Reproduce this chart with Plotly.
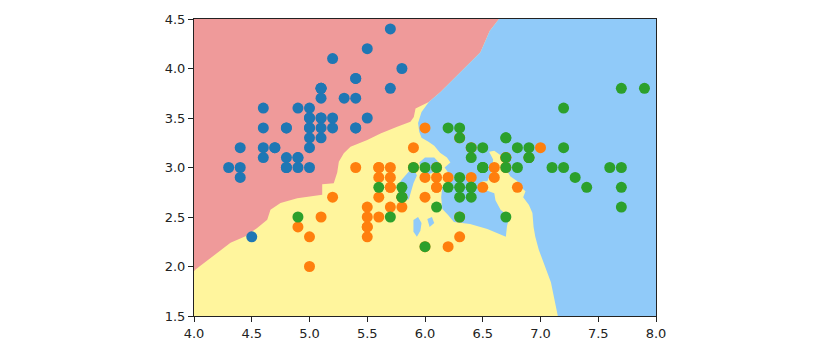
import plotly.graph_objects as go

# ---- Iris data (sepal length, sepal width) ----
setosa_len = [5.1,4.9,4.7,4.6,5.0,5.4,4.6,5.0,4.4,4.9,5.4,4.8,4.8,4.3,5.8,5.7,5.4,5.1,5.7,5.1,
              5.4,5.1,4.6,5.1,4.8,5.0,5.0,5.2,5.2,4.7,4.8,5.4,5.2,5.5,4.9,5.0,5.5,4.9,4.4,5.1,
              5.0,4.5,4.4,5.0,5.1,4.8,5.1,4.6,5.3,5.0]
setosa_wid = [3.5,3.0,3.2,3.1,3.6,3.9,3.4,3.4,2.9,3.1,3.7,3.4,3.0,3.0,4.0,4.4,3.9,3.5,3.8,3.8,
              3.4,3.7,3.6,3.3,3.4,3.0,3.4,3.5,3.4,3.2,3.1,3.4,4.1,4.2,3.1,3.2,3.5,3.6,3.0,3.4,
              3.5,2.3,3.2,3.5,3.8,3.0,3.8,3.2,3.7,3.3]
versicolor_len = [7.0,6.4,6.9,5.5,6.5,5.7,6.3,4.9,6.6,5.2,5.0,5.9,6.0,6.1,5.6,6.7,5.6,5.8,6.2,5.6,
                  5.9,6.1,6.3,6.1,6.4,6.6,6.8,6.7,6.0,5.7,5.5,5.5,5.8,6.0,5.4,6.0,6.7,6.3,5.6,5.5,
                  5.5,6.1,5.8,5.0,5.6,5.7,5.7,6.2,5.1,5.7]
versicolor_wid = [3.2,3.2,3.1,2.3,2.8,2.8,3.3,2.4,2.9,2.7,2.0,3.0,2.2,2.9,2.9,3.1,3.0,2.7,2.2,2.5,
                  3.2,2.8,2.5,2.8,2.9,3.0,2.8,3.0,2.9,2.6,2.4,2.4,2.7,2.7,3.0,3.4,3.1,2.3,3.0,2.5,
                  2.6,3.0,2.6,2.3,2.7,3.0,2.9,2.9,2.5,2.8]
virginica_len = [6.3,5.8,7.1,6.3,6.5,7.6,4.9,7.3,6.7,7.2,6.5,6.4,6.8,5.7,5.8,6.4,6.5,7.7,7.7,6.0,
                 6.9,5.6,7.7,6.3,6.7,7.2,6.2,6.1,6.4,7.2,7.4,7.9,6.4,6.3,6.1,7.7,6.3,6.4,6.0,6.9,
                 6.7,6.9,5.8,6.8,6.7,6.7,6.3,6.5,6.2,5.9]
virginica_wid = [3.3,2.7,3.0,2.9,3.0,3.0,2.5,2.9,2.5,3.6,3.2,2.7,3.0,2.5,2.8,3.2,3.0,3.8,2.6,2.2,
                 3.2,2.8,2.8,2.7,3.3,3.2,2.8,3.0,2.8,3.0,2.8,3.8,2.8,2.8,2.6,3.0,3.4,3.1,3.0,3.1,
                 3.1,3.1,2.7,3.2,3.3,3.0,2.5,3.0,3.4,3.0]

# ---- Decision-region outlines ----
pink_x = [4.0, 6.64, 6.56, 6.52, 6.48, 6.365, 6.25, 6.134, 6.033, 5.918, 5.903, 5.874, 5.759,
          5.615, 5.5, 5.355, 5.297, 5.254, 5.24, 5.21, 5.11, 5.11, 4.894, 4.749, 4.662, 4.634,
          4.547, 4.446, 4.316, 4.2, 4.085, 4.013, 4.0]
pink_y = [4.5, 4.5, 4.38, 4.27, 4.164, 4.031, 3.897, 3.762, 3.662, 3.595, 3.511, 3.461, 3.411,
          3.344, 3.277, 3.21, 3.143, 3.059, 2.95, 2.842, 2.83, 2.724, 2.69, 2.641, 2.573, 2.473,
          2.389, 2.305, 2.239, 2.138, 2.038, 1.97, 1.953]

blue_x = [6.64, 8.0, 8.0, 7.15, 7.09, 7.04, 6.985, 6.955, 6.94, 6.93, 6.90, 6.85, 6.87, 6.83, 6.80,
          6.74, 6.685, 6.67, 6.60, 6.555, 6.59, 6.58, 6.555, 6.54, 6.50, 6.47, 6.48, 6.55, 6.60,
          6.61, 6.654, 6.73, 6.71, 6.70, 6.54, 6.39, 6.25, 6.2, 6.15, 6.14, 6.15, 6.2, 6.25, 6.2,
          6.17, 6.22, 6.19, 6.13, 6.08, 6.03, 5.97, 5.95, 5.94, 5.97, 6.033, 6.134, 6.25, 6.365,
          6.48, 6.52, 6.56, 6.64]
blue_y = [4.5, 4.5, 1.5, 1.5, 1.84, 2.0, 2.17, 2.30, 2.40, 2.54, 2.62, 2.70, 2.76, 2.80, 2.86,
          2.91, 3.01, 3.11, 3.17, 3.16, 3.08, 2.98, 2.89, 2.86, 2.86, 2.83, 2.79, 2.76, 2.74,
          2.67, 2.573, 2.50, 2.41, 2.30, 2.38, 2.43, 2.45, 2.52, 2.58, 2.70, 2.80, 2.84, 2.90, 2.95,
          3.0, 3.05, 3.10, 3.15, 3.22, 3.26, 3.30, 3.36, 3.45, 3.56, 3.662, 3.762, 3.897, 4.031,
          4.164, 4.27, 4.38, 4.5]

island1_x = [5.95, 6.0, 6.08, 6.12, 6.1, 6.03, 5.97]
island1_y = [3.05, 3.1, 3.1, 3.05, 2.97, 2.93, 2.96]
island2_x = [5.77, 5.80, 5.86, 5.91, 5.93, 5.90, 5.88, 5.86, 5.80, 5.77]
island2_y = [2.83, 2.88, 2.96, 2.97, 2.92, 2.84, 2.76, 2.68, 2.66, 2.72]
island3_x = [5.90, 5.94, 5.97, 5.96, 5.93, 5.90]
island3_y = [2.47, 2.50, 2.44, 2.36, 2.30, 2.35]
island4_x = [6.02, 6.06, 6.08, 6.04]
island4_y = [2.48, 2.50, 2.44, 2.40]

x_ticks = [4.0, 4.5, 5.0, 5.5, 6.0, 6.5, 7.0, 7.5, 8.0]
y_ticks = [1.5, 2.0, 2.5, 3.0, 3.5, 4.0, 4.5]

PINK, YELLOW, BLUE = "#EF9A9A", "#FFF59D", "#90CAF9"

fig = go.Figure()

def region(xs, ys, color):
    fig.add_trace(go.Scatter(x=xs, y=ys, mode="lines", fill="toself", fillcolor=color,
                             line=dict(width=0, color=color), hoverinfo="skip", showlegend=False))

region(pink_x, pink_y, PINK)
region(blue_x, blue_y, BLUE)
for xs, ys in [(island1_x, island1_y), (island2_x, island2_y),
               (island3_x, island3_y), (island4_x, island4_y)]:
    region(xs, ys, BLUE)

for xs, ys, c in [(setosa_len, setosa_wid, "#1f77b4"),
                  (versicolor_len, versicolor_wid, "#ff7f0e"),
                  (virginica_len, virginica_wid, "#2ca02c")]:
    fig.add_trace(go.Scatter(x=xs, y=ys, mode="markers",
                             marker=dict(color=c, size=11, line=dict(width=0)),
                             showlegend=False))

axis_common = dict(showgrid=False, zeroline=False, showline=True, linecolor="#222",
                   linewidth=1, mirror=True, ticks="outside", ticklen=5, tickwidth=1,
                   tickcolor="#222", tickfont=dict(family="DejaVu Sans", size=13, color="#222"))

fig.update_layout(
    width=820, height=353,
    margin=dict(l=194, r=164, t=18, b=36),
    paper_bgcolor="white", plot_bgcolor=YELLOW,
    xaxis=dict(range=[4.0, 8.0], tickvals=x_ticks, ticktext=[f"{v:.1f}" for v in x_ticks],
               **axis_common),
    yaxis=dict(range=[1.5, 4.5], tickvals=y_ticks, ticktext=[f"{v:.1f}" for v in y_ticks],
               **axis_common),
)

fig.write_html("out.html")
